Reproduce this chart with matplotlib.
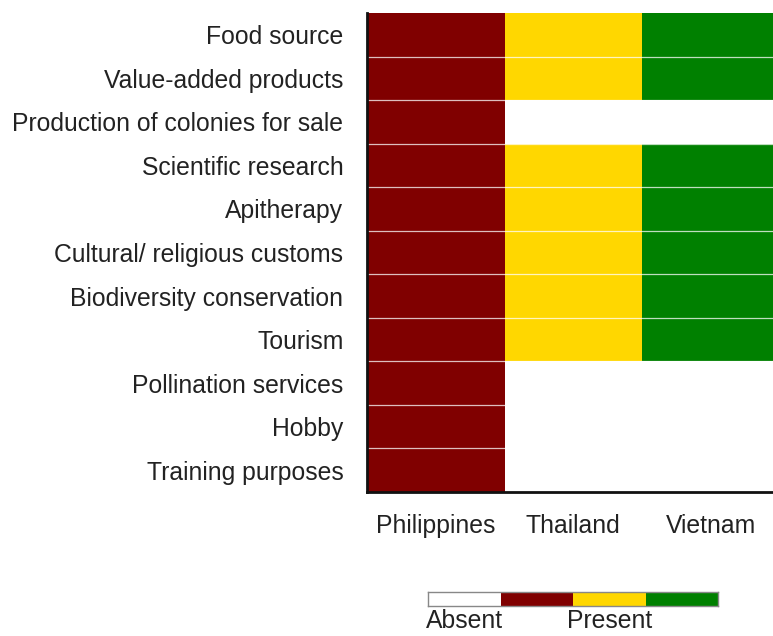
import numpy as np
import matplotlib
matplotlib.use('Agg')
import matplotlib.pyplot as plt
from matplotlib.colors import ListedColormap, BoundaryNorm

plt.rcParams['font.family'] = ['Liberation Sans', 'DejaVu Sans']

uses = [
    'Food source',
    'Value-added products',
    'Production of colonies for sale',
    'Scientific research',
    'Apitherapy',
    'Cultural/ religious customs',
    'Biodiversity conservation',
    'Tourism',
    'Pollination services',
    'Hobby',
    'Training purposes',
]
countries = ['Philippines', 'Thailand', 'Vietnam']

# 1 = present, 0 = absent
philippines = [1, 1, 1, 1, 1, 1, 1, 1, 1, 1, 1]
thailand = [1, 1, 0, 1, 1, 1, 1, 1, 0, 0, 0]
vietnam = [1, 1, 0, 1, 1, 1, 1, 1, 0, 0, 0]

legend_labels = ['Absent', 'Present']
colors = ['#ffffff', '#800000', '#ffd700', '#008000']

# each country gets its own colour code when present
grid = np.array([philippines, thailand, vietnam]).T * np.array([1, 2, 3])

cmap = ListedColormap(colors)
norm = BoundaryNorm([-0.5, 0.5, 1.5, 2.5, 3.5], cmap.N)

W, H = 773, 636
fs = 17.8
fig = plt.figure(figsize=(W / 100, H / 100), dpi=100)
ax = fig.add_axes([367 / W, 144 / H, 406 / W, 479 / H])

ax.pcolormesh(np.arange(len(countries) + 1), np.arange(len(uses) + 1), grid,
              cmap=cmap, norm=norm)
for y in range(1, len(uses)):
    ax.axhline(y, color='white', lw=0.9, alpha=0.75)

ax.set_xlim(0, 406 / 137.5)
ax.set_ylim(len(uses), 0)
ax.set_yticks(np.arange(len(uses)) + 0.5)
ax.set_yticklabels(uses, fontsize=fs, color='#222222')
ax.set_xticks(np.arange(len(countries)) + 0.5)
ax.set_xticklabels(countries, fontsize=fs, color='#222222')
ax.tick_params(length=0)
ax.tick_params(axis='y', pad=17)
ax.tick_params(axis='x', pad=16)
for side in ['top', 'right']:
    ax.spines[side].set_visible(False)
for side in ['left', 'bottom']:
    ax.spines[side].set_linewidth(2)
    ax.spines[side].set_color('#111111')

# legend bar
cax = fig.add_axes([428 / W, 30 / H, 290 / W, 14 / H])
cax.pcolormesh(np.arange(len(colors) + 1), [0, 1], [np.arange(len(colors))],
               cmap=cmap, norm=norm)
cax.set_xlim(0, len(colors))
cax.set_yticks([])
cax.set_xticks([0.5, 2.5])
cax.set_xticklabels(legend_labels, fontsize=fs, color='#222222')
cax.tick_params(length=0, pad=2)
for s in cax.spines.values():
    s.set_color('#888888')
    s.set_linewidth(1)

fig.savefig('out.png', dpi=100)
